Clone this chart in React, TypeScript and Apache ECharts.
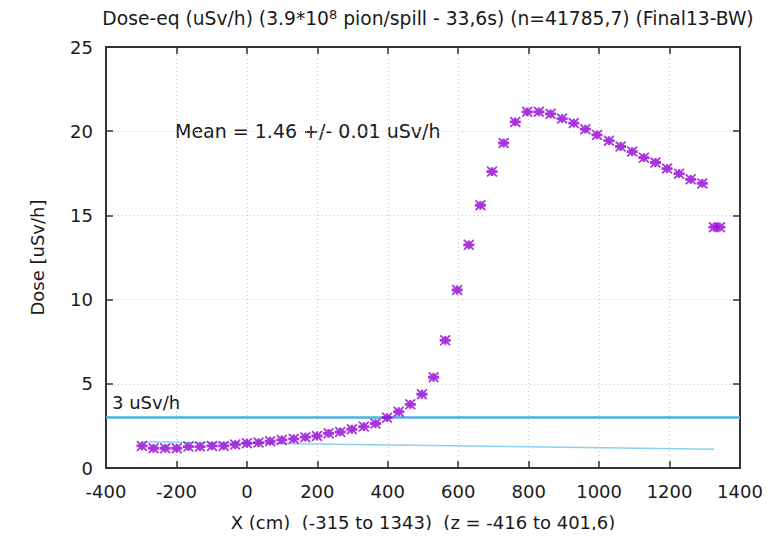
import React, { useEffect, useRef } from "react";
import * as echarts from "echarts";

const xPositions = [
  -298, -265, -232, -199, -166, -133, -99, -66, -33, 0, 33, 66, 99, 133, 166, 199, 232,
  265, 298, 332, 365, 398, 431, 464, 497, 530, 563, 597, 630, 663, 696, 729, 762, 796,
  829, 862, 895, 928, 961, 994, 1028, 1061, 1094, 1127, 1160, 1193, 1227, 1260, 1293,
  1326, 1343,
];
const doseValues = [
  1.31, 1.17, 1.17, 1.17, 1.27, 1.27, 1.31, 1.31, 1.39, 1.47, 1.51, 1.59, 1.67, 1.73,
  1.83, 1.9, 2.06, 2.14, 2.3, 2.46, 2.64, 2.99, 3.34, 3.78, 4.38, 5.39, 7.58, 10.57,
  13.25, 15.6, 17.6, 19.3, 20.55, 21.15, 21.15, 21.03, 20.75, 20.48, 20.12, 19.78,
  19.44, 19.09, 18.79, 18.43, 18.14, 17.78, 17.48, 17.14, 16.9, 14.3, 14.3,
];
const fitX = [-298, 1326];
const fitY = [1.56, 1.12];
const thresholdValue = 3;
const thresholdLabel = "3 uSv/h";
const meanText = "Mean = 1.46 +/- 0.01 uSv/h";
const titleParts = ["Dose-eq (uSv/h) (3.9*10", "8", " pion/spill - 33,6s) (n=41785,7) (Final13-BW)"];
const xAxisName = "X (cm)  (-315 to 1343)  (z = -416 to 401,6)";
const yAxisName = "Dose [uSv/h]";
const xRange = [-400, 1400, 200];
const yRange = [0, 25, 5];

const FONT = "DejaVu Sans";
const FRAME = "#333333";
const TXT = "#1a1a1a";

const starPath =
  "path://M0,3.7L10,3.7L10,6.3L0,6.3Z M3.9,1L6.1,1L6.1,9L3.9,9Z M1,0L5,3.6L9,0L10,1.1L6.3,5L10,8.9L9,10L5,6.4L1,10L0,8.9L3.7,5L0,1.1Z";

export default function App() {
  const ref = useRef<HTMLDivElement>(null);
  useEffect(() => {
    if (!ref.current) return;
    const chart = echarts.init(ref.current, null, { renderer: "svg" });
    const pts = xPositions.map((x, i) => [x, doseValues[i]]);
    const fit = fitX.map((x, i) => [x, fitY[i]]);
    const fmt = (v: number) => String(v);
    const baseX = {
      type: "value" as const,
      min: xRange[0],
      max: xRange[1],
      interval: xRange[2],
      axisLine: { show: true, onZero: false, lineStyle: { color: FRAME, width: 2 } },
      axisTick: { show: true, inside: true, length: 7, lineStyle: { color: FRAME, width: 1.5 } },
    };
    const baseY = {
      type: "value" as const,
      min: yRange[0],
      max: yRange[1],
      interval: yRange[2],
      axisLine: { show: true, onZero: false, lineStyle: { color: FRAME, width: 2 } },
      axisTick: { show: true, inside: true, length: 7, lineStyle: { color: FRAME, width: 1.5 } },
    };
    const split = { show: true, lineStyle: { color: "#c8c8c8", type: [1, 3] as any, width: 1 } };
    chart.setOption({
      animation: false,
      backgroundColor: "#ffffff",
      textStyle: { fontFamily: FONT },
      title: {
        text: `{a|${titleParts[0]}}{s|${titleParts[1]}}{a|${titleParts[2]}}`,
        left: 423,
        top: 3,
        textAlign: "center",
        textStyle: {
          fontWeight: "normal",
          rich: {
            a: { fontFamily: FONT, fontSize: 18.7, fontWeight: "normal", color: TXT },
            s: { fontFamily: FONT, fontSize: 13, fontWeight: "normal", color: TXT, verticalAlign: "top", padding: [0, 0, 8, 0] },
          },
        },
      },
      grid: { left: 106, right: 30, top: 47, bottom: 70 },
      xAxis: [
        {
          ...baseX,
          position: "bottom",
          name: xAxisName,
          nameLocation: "middle",
          nameGap: 45,
          nameTextStyle: { fontFamily: FONT, fontSize: 18, color: TXT },
          axisLabel: { fontFamily: FONT, fontSize: 18, color: TXT, margin: 14, formatter: fmt },
          splitLine: split,
        },
        {
          ...baseX,
          position: "top",
          axisLabel: { show: false },
          splitLine: { show: false },
        },
      ],
      yAxis: [
        {
          ...baseY,
          position: "left",
          name: yAxisName,
          nameLocation: "middle",
          nameGap: 60,
          nameTextStyle: { fontFamily: FONT, fontSize: 18, color: TXT },
          axisLabel: { fontFamily: FONT, fontSize: 18, color: TXT, margin: 13, formatter: fmt },
          splitLine: split,
        },
        {
          ...baseY,
          position: "right",
          axisLabel: { show: false },
          splitLine: { show: false },
        },
      ],
      graphic: [
        {
          type: "text",
          left: 175,
          top: 121,
          style: { text: meanText, fontFamily: FONT, fontSize: 19, fill: TXT },
        },
      ],
      series: [
        {
          type: "line",
          data: fit,
          symbol: "none",
          lineStyle: { color: "#8ccff2", width: 1.5 },
          z: 2,
          markLine: {
            silent: true,
            symbol: ["none", "none"],
            lineStyle: { color: "#4fb0e3", width: 2.5, type: "solid" },
            label: {
              show: true,
              position: "insideStartTop",
              formatter: thresholdLabel,
              fontFamily: FONT,
              fontSize: 18,
              color: TXT,
              distance: [6, 6],
            },
            data: [{ yAxis: thresholdValue }],
          },
        },
        {
          type: "scatter",
          data: pts,
          symbol: starPath,
          symbolSize: 11,
          itemStyle: { color: "#9400d3" },
          z: 5,
        },
      ],
    });
    return () => chart.dispose();
  }, []);
  return <div ref={ref} style={{ width: 770, height: 538, margin: -8 }} />;
}
